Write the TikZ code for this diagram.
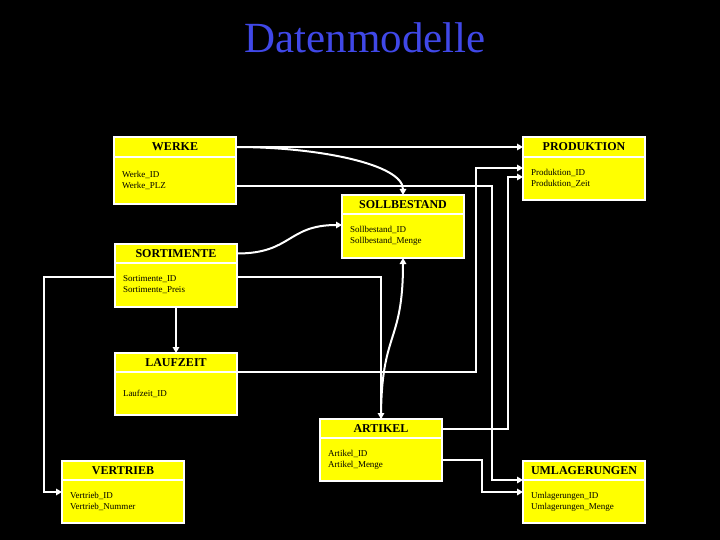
\documentclass[tikz,border=0pt]{standalone}
\usepackage{fontspec}
\setmainfont{Liberation Serif}
\usetikzlibrary{positioning,arrows.meta}

\definecolor{titelblau}{RGB}{64,72,232}
\definecolor{gelb}{RGB}{255,255,0}

\tikzset{
    titel/.style={text=titelblau, font=\fontsize{43}{43}\selectfont, inner sep=0pt},
    kopf/.style={draw=white, fill=gelb, line width=1.8pt, outer sep=0pt, inner sep=0pt,
        minimum width=122pt, minimum height=19pt, font=\fontsize{12}{12}\selectfont\bfseries},
    feld/.style={draw=white, fill=gelb, line width=1.8pt, outer sep=0pt, inner xsep=8pt,
        inner ysep=0pt, text width=106pt, minimum height=43pt, align=left,
        font=\fontsize{9}{11}\selectfont},
    pfeil/.style={draw=white, line width=2pt, ->},
}

\begin{document}
\begin{tikzpicture}[x=1pt, y=1pt, >={Triangle[length=6pt, width=6.5pt]}]
    \fill[black] (0,0) rectangle (720,-540);
    \useasboundingbox (0,0) rectangle (720,-540);

    \node[titel, anchor=base] (titel) at (365,-53) {Datenmodelle};

    \node[kopf, minimum height=20pt, anchor=north west] (werkeKopf) at (114,-137) {WERKE};
    \node[feld, minimum height=47pt, below=0pt of werkeKopf] (werkeFeld) {Werke\_ID\\Werke\_PLZ};

    \node[kopf, minimum height=20pt, anchor=north west] (produktionKopf) at (523,-137) {PRODUKTION};
    \node[feld, below=0pt of produktionKopf] (produktionFeld) {Produktion\_ID\\Produktion\_Zeit};

    \node[kopf, anchor=north west] (sollbestandKopf) at (342,-195) {SOLLBESTAND};
    \node[feld, minimum height=44pt, below=0pt of sollbestandKopf] (sollbestandFeld) {Sollbestand\_ID\\Sollbestand\_Menge};

    \node[kopf, anchor=north west] (sortimenteKopf) at (115,-244) {SORTIMENTE};
    \node[feld, minimum height=44pt, below=0pt of sortimenteKopf] (sortimenteFeld) {Sortimente\_ID\\Sortimente\_Preis};

    \node[kopf, anchor=north west] (laufzeitKopf) at (115,-353) {LAUFZEIT};
    \node[feld, below=0pt of laufzeitKopf] (laufzeitFeld) {Laufzeit\_ID};

    \node[kopf, anchor=north west] (artikelKopf) at (320,-419) {ARTIKEL};
    \node[feld, below=0pt of artikelKopf] (artikelFeld) {Artikel\_ID\\Artikel\_Menge};

    \node[kopf, anchor=north west] (vertriebKopf) at (62,-461) {VERTRIEB};
    \node[feld, below=0pt of vertriebKopf] (vertriebFeld) {Vertrieb\_ID\\Vertrieb\_Nummer};

    \node[kopf, anchor=north west] (umlagerungenKopf) at (523,-461) {UMLAGERUNGEN};
    \node[feld, below=0pt of umlagerungenKopf] (umlagerungenFeld) {Umlagerungen\_ID\\Umlagerungen\_Menge};

    \draw[pfeil] (werkeKopf.east) -- (produktionKopf.west);
    \draw[pfeil] (werkeKopf.east) .. controls +(81,0) and +(0,31) .. (sollbestandKopf.north);
    \draw[pfeil] ([yshift=-5.5pt]werkeFeld.east) -| ([xshift=-31pt]umlagerungenKopf.south west)
        -- (umlagerungenKopf.south west);
    \draw[pfeil] (laufzeitKopf.south east) -| ([xshift=-47pt, yshift=10.5pt]produktionFeld.west)
        -- ([yshift=10.5pt]produktionFeld.west);
    \draw[pfeil] (artikelKopf.east) -| ([xshift=-15pt, yshift=1.5pt]produktionFeld.west)
        -- ([yshift=1.5pt]produktionFeld.west);
    \draw[pfeil] (artikelFeld.east) -| ([xshift=-41pt, yshift=9.5pt]umlagerungenFeld.west)
        -- ([yshift=9.5pt]umlagerungenFeld.west);
    \draw[pfeil] ([yshift=8pt]sortimenteFeld.west) -| ([xshift=-18pt, yshift=9.5pt]vertriebFeld.west)
        -- ([yshift=9.5pt]vertriebFeld.west);
    \draw[pfeil] ([yshift=8pt]sortimenteFeld.east) -| (artikelKopf.north);
    \draw[pfeil] (sortimenteKopf.east) .. controls +(55,0) and +(-55,0) .. ([yshift=11pt]sollbestandFeld.west);
    \draw[pfeil] (sortimenteFeld.south) -- (laufzeitKopf.north);
    \draw[pfeil] (artikelKopf.north) .. controls +(0,89) and +(0,-87) .. (sollbestandFeld.south);
\end{tikzpicture}
\end{document}
